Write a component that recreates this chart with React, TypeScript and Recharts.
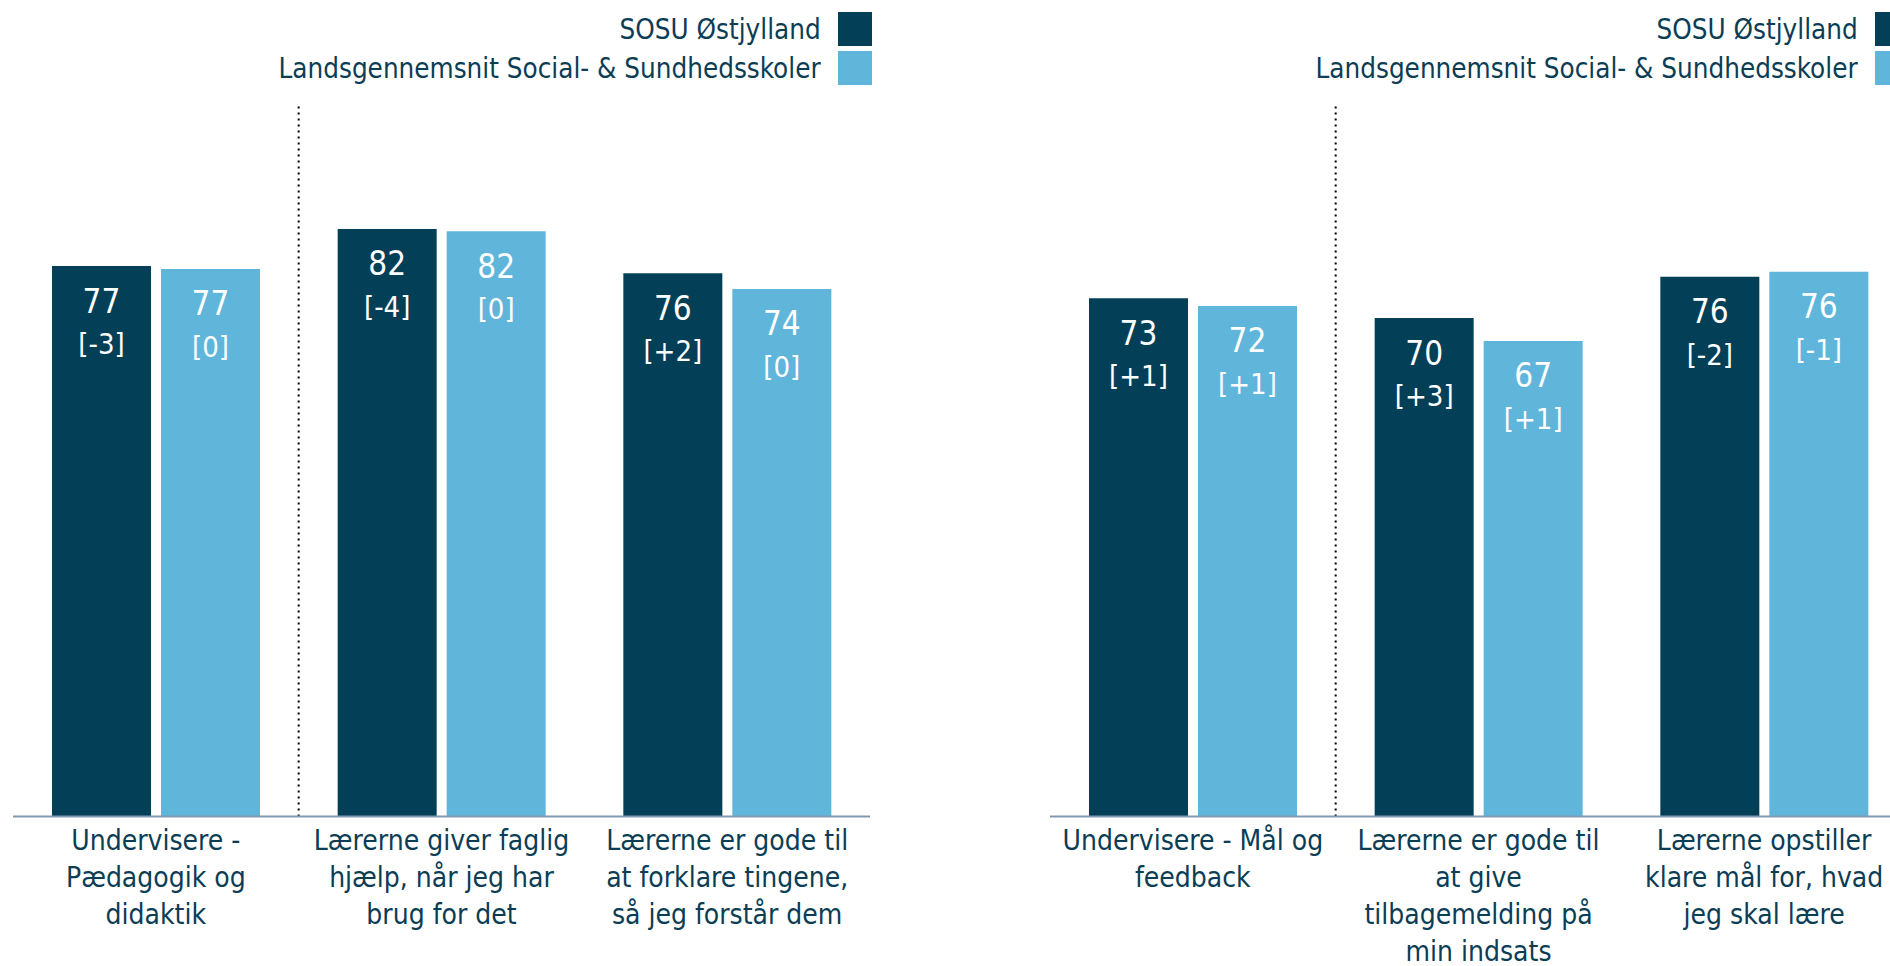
import React from 'react';
import { BarChart, Bar, XAxis, YAxis, LabelList, ReferenceLine } from 'recharts';

const seriesNames = ['SOSU Østjylland', 'Landsgennemsnit Social- & Sundhedsskoler'];
const seriesColors = ['#043F58', '#5FB5DA'];

// venstre panel
const leftCategories = [
  ['Undervisere -', 'Pædagogik og', 'didaktik'],
  ['Lærerne giver faglig', 'hjælp, når jeg har', 'brug for det'],
  ['Lærerne er gode til', 'at forklare tingene,', 'så jeg forstår dem'],
];
const leftSchool = [77.2, 82.4, 76.2];
const leftNational = [76.8, 82.1, 74.0];
const leftSchoolChange = ['[-3]', '[-4]', '[+2]'];
const leftNationalChange = ['[0]', '[0]', '[0]'];

// højre panel
const rightCategories = [
  ['Undervisere - Mål og', 'feedback'],
  ['Lærerne er gode til', 'at give', 'tilbagemelding på', 'min indsats'],
  ['Lærerne opstiller', 'klare mål for, hvad', 'jeg skal lære'],
];
const rightSchool = [72.7, 69.9, 75.7];
const rightNational = [71.6, 66.7, 76.4];
const rightSchoolChange = ['[+1]', '[+3]', '[-2]'];
const rightNationalChange = ['[+1]', '[+1]', '[-1]'];

const FONT = "'DejaVu Sans Condensed', 'DejaVu Sans', sans-serif";
const TEXT = '#0B3D55';

interface PanelProps {
  left: number;
  categories: string[][];
  school: number[];
  national: number[];
  schoolChange: string[];
  nationalChange: string[];
}

function barLabel(changes: string[]) {
  return (props: any) => {
    const { x, y, width, value, index } = props;
    const cx = x + width / 2;
    return (
      <g>
        <text x={cx} y={y + 35} fill="#fff" textAnchor="middle" dominantBaseline="central"
          fontSize={33} fontFamily={FONT}>
          {Math.round(value)}
        </text>
        <text x={cx} y={y + 78} fill="#fff" textAnchor="middle" dominantBaseline="central"
          fontSize={29} fontFamily={FONT}>
          {changes[index]}
        </text>
      </g>
    );
  };
}

function Panel({ left, categories, school, national, schoolChange, nationalChange }: PanelProps) {
  const data = categories.map((lines, i) => ({
    name: lines.join(' '),
    school: school[i],
    national: national[i],
  }));

  const renderTick = (props: any) => {
    const { x, y, index } = props;
    const lines = categories[index] || [];
    return (
      <g>
        {lines.map((l, i) => (
          <text key={i} x={x} y={y + 23.5 + i * 37} textAnchor="middle" dominantBaseline="central"
            fontSize={28} fontFamily={FONT} fill={TEXT}>
            {l}
          </text>
        ))}
      </g>
    );
  };

  return (
    <div style={{ position: 'absolute', left, top: 0, width: 900, height: 966 }}>
      <BarChart width={900} height={966} data={data}
        margin={{ top: 103.5, right: 30, bottom: 0, left: 13 }}
        barSize={99} barGap={10}>
        <YAxis hide domain={[0, 100]} />
        <XAxis dataKey="name" height={149.5} tickSize={0} tickMargin={0} tickLine={false}
          axisLine={{ stroke: '#8497B0', strokeWidth: 2 }} tick={renderTick} interval={0} />
        <ReferenceLine x={data[1].name} position="start" stroke="#000" strokeWidth={2}
          strokeDasharray="2 4" />
        <Bar dataKey="school" fill={seriesColors[0]} isAnimationActive={false}>
          <LabelList dataKey="school" content={barLabel(schoolChange)} />
        </Bar>
        <Bar dataKey="national" fill={seriesColors[1]} isAnimationActive={false}>
          <LabelList dataKey="national" content={barLabel(nationalChange)} />
        </Bar>
      </BarChart>
      <div style={{ position: 'absolute', top: 12, left: 0, width: 872 }}>
        {seriesNames.map((n, i) => (
          <div key={n} style={{ display: 'flex', justifyContent: 'flex-end', alignItems: 'center',
            height: 34, marginBottom: 5 }}>
            <span style={{ fontFamily: FONT, fontSize: 29, color: TEXT, marginRight: 17,
              whiteSpace: 'nowrap', display: 'inline-block', transform: 'scaleX(0.95)',
              transformOrigin: 'right center' }}>{n}</span>
            <span style={{ width: 34, height: 34, background: seriesColors[i], display: 'inline-block' }} />
          </div>
        ))}
      </div>
    </div>
  );
}

export default function App() {
  return (
    <div style={{ position: 'absolute', left: 0, top: 0, width: 1890, height: 966,
      overflow: 'hidden', background: '#fff' }}>
      <Panel left={0} categories={leftCategories} school={leftSchool} national={leftNational}
        schoolChange={leftSchoolChange} nationalChange={leftNationalChange} />
      <Panel left={1037} categories={rightCategories} school={rightSchool} national={rightNational}
        schoolChange={rightSchoolChange} nationalChange={rightNationalChange} />
    </div>
  );
}
